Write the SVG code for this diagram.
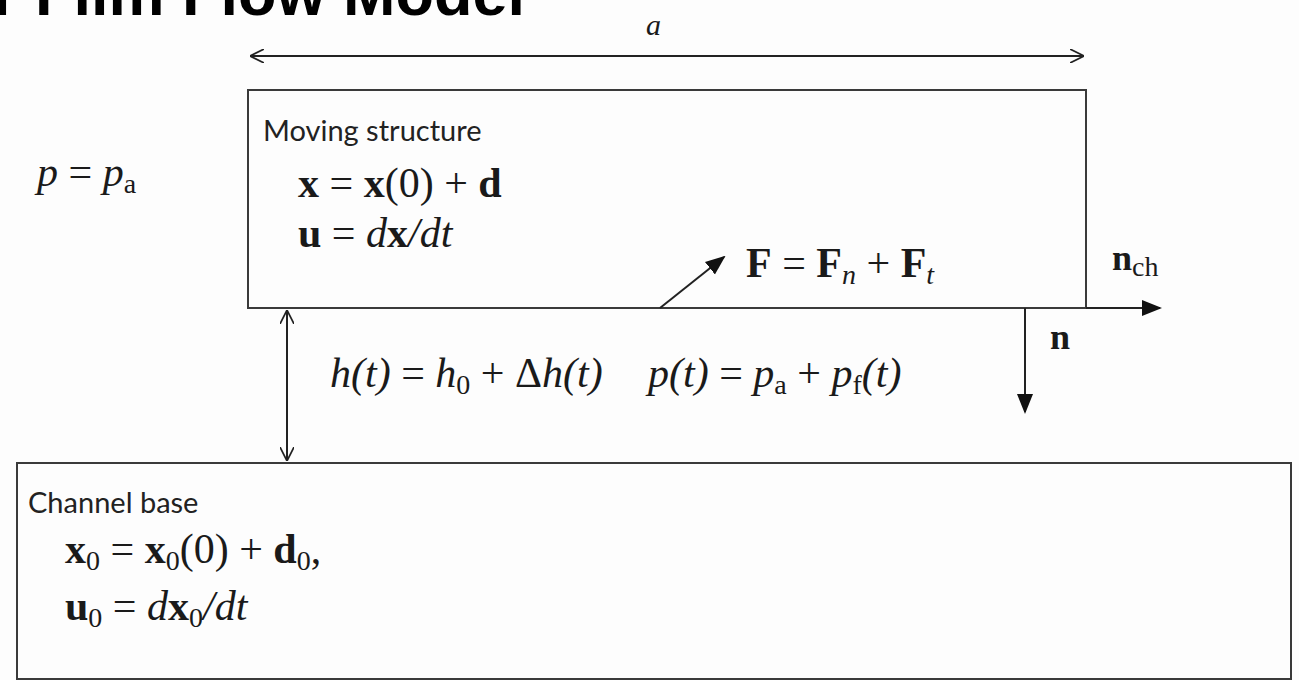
<svg xmlns="http://www.w3.org/2000/svg" width="1299" height="680" viewBox="0 0 1299 680">
<style>
.box{fill:none;stroke:#3a3a3a;stroke-width:2}
.ln{fill:none;stroke:#222;stroke-width:2}
.lbl{font-family:"Lato","Liberation Sans",sans-serif;font-size:29px;fill:#222}
.m{font-family:"Liberation Serif","DejaVu Serif",serif;font-size:42px;fill:#1a1a1a}
.b{font-weight:bold;font-style:normal}
.i{font-style:italic;font-weight:normal}
.up{font-style:normal;font-weight:normal}
.it{font-style:italic;font-weight:normal}
.sub{font-size:28px}
.title{font-family:"Liberation Sans",Arial,sans-serif;font-weight:bold;font-size:63px;fill:#000}
</style>
<defs>
<marker id="filled" viewBox="0 0 10 10" refX="9" refY="5" markerWidth="20" markerHeight="20" markerUnits="userSpaceOnUse" orient="auto">
<path d="M0,1 L10,5 L0,9 z" fill="#111"/>
</marker>
<marker id="open" viewBox="0 0 10 10" refX="10" refY="5" markerWidth="14" markerHeight="14" markerUnits="userSpaceOnUse" orient="auto">
<path d="M0,0 L10,5 L0,10" fill="none" stroke="#222" stroke-width="1.2"/>
</marker>
<marker id="openS" viewBox="0 0 10 10" refX="0" refY="5" markerWidth="14" markerHeight="14" markerUnits="userSpaceOnUse" orient="auto">
<path d="M10,0 L0,5 L10,10" fill="none" stroke="#222" stroke-width="1.2"/>
</marker>
</defs>
<rect width="1299" height="680" fill="#fdfdfd"/>
<text class="title" x="-7" y="15">r Film Flow Model</text>

<g id="ambient">
<text class="m i" x="37" y="186">p<tspan class="up"> = </tspan>p<tspan class="sub up" dy="7">a</tspan></text>
</g>

<g id="moving-structure">
<rect class="box" x="248" y="90" width="838" height="218"/>
<text class="lbl" x="263" y="141">Moving structure</text>
<text class="m b" x="298" y="197">x<tspan class="up"> = </tspan>x<tspan class="up">(0) + </tspan>d</text>
<text class="m b" x="298" y="247">u<tspan class="up"> = </tspan><tspan class="it">d</tspan>x<tspan class="it">/dt</tspan></text>
</g>

<g id="channel-base">
<rect class="box" x="17" y="463" width="1274" height="216"/>
<text class="lbl" x="28" y="513">Channel base</text>
<text class="m b" x="65" y="563">x<tspan class="sub up" dy="7">0</tspan><tspan class="up" dy="-7"> = </tspan>x<tspan class="sub up" dy="7">0</tspan><tspan class="up" dy="-7">(0) + </tspan>d<tspan class="sub up" dy="7">0</tspan><tspan class="up" dy="-7">,</tspan></text>
<text class="m b" x="65" y="620">u<tspan class="sub up" dy="7">0</tspan><tspan class="up" dy="-7"> = </tspan><tspan class="it">d</tspan>x<tspan class="sub up" dy="7">0</tspan><tspan class="it" dy="-7">/dt</tspan></text>
</g>

<g id="labels">
<text class="m i" x="646" y="35" style="font-size:30px">a</text>
<text class="m b" x="746" y="277">F<tspan class="up"> = </tspan>F<tspan class="sub it" dy="7">n</tspan><tspan class="up" dy="-7"> + </tspan>F<tspan class="sub it" dy="7">t</tspan></text>
<text class="m b" x="1112" y="270" style="font-size:36px">n<tspan class="sub up" dy="6">ch</tspan></text>
<text class="m b" x="1050" y="349" style="font-size:36px">n</text>
<text class="m i" x="330" y="387">h(t)<tspan class="up"> = </tspan>h<tspan class="sub up" dy="7">0</tspan><tspan class="up" dy="-7"> + Δ</tspan>h(t)</text>
<text class="m i" x="648" y="387">p(t)<tspan class="up"> = </tspan>p<tspan class="sub up" dy="7">a</tspan><tspan class="up" dy="-7"> + </tspan>p<tspan class="sub up" dy="7">f</tspan><tspan dy="-7">(t)</tspan></text>
</g>

<g id="connectors">
<line class="ln" x1="250" y1="56" x2="1084" y2="56" marker-start="url(#openS)" marker-end="url(#open)"/>
<line class="ln" x1="287" y1="310" x2="287" y2="461" marker-start="url(#openS)" marker-end="url(#open)"/>
<line class="ln" x1="660" y1="308" x2="724" y2="257" marker-end="url(#filled)"/>
<line class="ln" x1="1025" y1="308" x2="1025" y2="412" marker-end="url(#filled)"/>
<line class="ln" x1="1086" y1="308" x2="1160" y2="308" marker-end="url(#filled)"/>
</g>
</svg>
